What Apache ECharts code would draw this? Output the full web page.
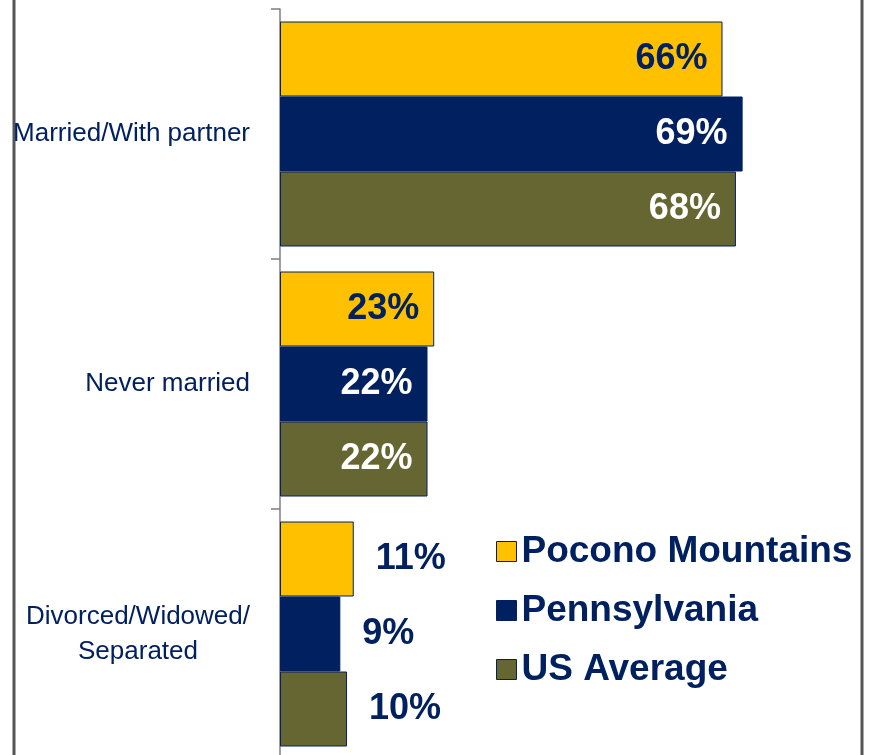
<!DOCTYPE html>
<html lang="en">
<head>
  <meta charset="UTF-8">
  <title>Marital status</title>
  <style>
    html, body { margin: 0; padding: 0; background: #fff; }
  </style>
</head>
<body>
  <div id="main" style="width: 873px;height:755px;"></div>

  <script src="https://cdn.jsdelivr.net/npm/echarts@6/dist/echarts.min.js"></script>
  <script>
    let categories = ['Married/With partner', 'Never married', 'Divorced/Widowed/\nSeparated'];
    let seriesNames = ['Pocono Mountains', 'Pennsylvania', 'US Average'];
    let pocono = [66, 23, 11];
    let pennsylvania = [69, 22, 9];
    let usAverage = [68, 22, 10];

    let navy = '#002060';
    let colorLib = ['#FFC000', '#002060', '#666633'];
    // label colour inside the bar
    let insideText = [navy, '#fff', '#fff'];

    // small bars get their label outside
    function makeData(values, idx) {
      return values.map((v, i) => {
        let outside = v < 15;
        return {
          value: v,
          label: {
            position: outside ? 'right' : 'insideRight',
            distance: outside ? 22 : 15,
            color: outside ? navy : insideText[idx]
          }
        };
      });
    }

    let chart = echarts.init(document.getElementById('main'));
    let option = {
      animation: false,
      grid: {
        left: 280,
        top: 9,
        width: 590,
        height: 750,
        outerBoundsMode: 'none'
      },
      xAxis: {
        type: 'value',
        min: 0,
        max: 88,
        show: false
      },
      yAxis: {
        type: 'category',
        inverse: true,
        data: categories,
        axisLine: { show: true, lineStyle: { color: '#7f7f7f', width: 1.5 } },
        axisTick: { show: true, length: 9, lineStyle: { color: '#7f7f7f', width: 1.5 } },
        axisLabel: {
          margin: 30,
          formatter: (val) => val.split('\n').map(s => '{c|' + s + '}').join('\n'),
          rich: {
            c: {
              align: 'center',
              fontSize: 26,
              lineHeight: 35,
              fontFamily: '"Liberation Sans", Arial, sans-serif',
              color: navy
            }
          }
        }
      },
      legend: {
        orient: 'vertical',
        left: 496,
        top: 533,
        itemWidth: 20,
        itemHeight: 20,
        itemGap: 22,
        padding: 0,
        icon: 'rect',
        itemStyle: { borderColor: navy, borderWidth: 1 },
        textStyle: {
          fontSize: 37,
          fontWeight: 'bold',
          fontFamily: '"Liberation Sans", Arial, sans-serif',
          color: navy
        },
        data: seriesNames
      },
      graphic: [{
        type: 'line',
        shape: { x1: 14, y1: 0, x2: 14, y2: 755 },
        style: { stroke: '#555', lineWidth: 3 }
      }, {
        type: 'line',
        shape: { x1: 862, y1: 0, x2: 862, y2: 755 },
        style: { stroke: '#555', lineWidth: 3 }
      }],
      series: [pocono, pennsylvania, usAverage].map((values, i) => ({
        type: 'bar',
        name: seriesNames[i],
        barGap: '0%',
        barCategoryGap: '10%',
        itemStyle: { color: colorLib[i], borderColor: navy, borderWidth: 1 },
        label: {
          show: true,
          formatter: '{c}%',
          fontSize: 36,
          fontWeight: 'bold',
          fontFamily: '"Liberation Sans", Arial, sans-serif'
        },
        data: makeData(values, i)
      }))
    };
    chart.setOption(option);
  </script>
</body>
</html>
